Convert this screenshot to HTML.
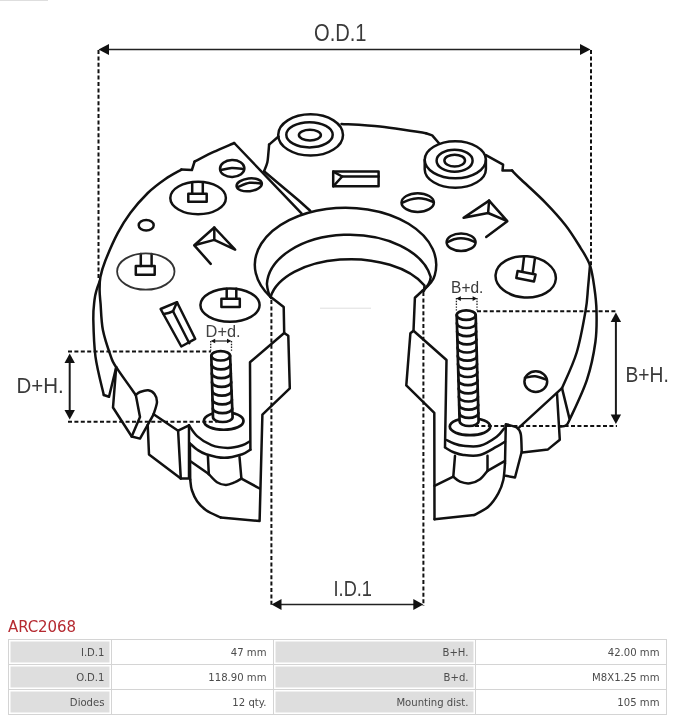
<!DOCTYPE html>
<html>
<head>
<meta charset="utf-8">
<title>ARC2068</title>
<style>
html,body{margin:0;padding:0;background:#fff;}
body{width:677px;height:720px;position:relative;overflow:hidden;font-family:"DejaVu Sans","Liberation Sans",sans-serif;}
#wrap{position:absolute;left:0;top:0;width:677px;height:720px;will-change:transform;}
#draw{position:absolute;left:0;top:0;width:677px;height:720px;}
#title{position:absolute;left:8px;top:616.9px;font-size:15px;line-height:20px;color:#b52a31;letter-spacing:-0.1px;}
table{position:absolute;left:8px;top:639px;width:658px;border-collapse:separate;border-spacing:0;font-size:10.1px;color:#4c4c4c;table-layout:fixed;border-top:1px solid #d4d4d4;border-left:1px solid #d4d4d4;}
td{height:24px;padding:0 6.5px 0 0;text-align:right;border-right:1px solid #d4d4d4;border-bottom:1px solid #d4d4d4;box-sizing:border-box;height:25px;background:#fff;}
td.l{background:#dedede;box-shadow:inset 0 0 0 1.5px #fff;}
</style>
</head>
<body>
<div id="wrap">
<svg id="draw" width="677" height="720" viewBox="0 0 677 720">
<g fill="none" stroke="#111" stroke-width="2.5" stroke-linejoin="round" stroke-linecap="round">
<path d="M234.2,143.0 C232.2,143.9 218.3,149.8 214.3,151.7 C210.3,153.5 196.6,160.5 194.6,161.5"/>
<path d="M194.6,161.5 L191.9,170.0 L181.4,169.6"/>
<path d="M181.4,169.6 C178.7,171.2 171.0,175.1 165.4,179.0 C159.8,182.9 153.7,187.3 147.8,193.0 C142.0,198.7 135.3,206.3 130.3,213.0 C125.3,219.7 121.9,225.2 117.7,233.2 C113.5,241.2 108.2,253.5 105.3,260.8 C102.4,268.1 101.4,272.1 100.4,277.0 C99.5,281.9 99.6,285.5 99.6,290.0 C99.6,294.5 100.0,297.3 100.6,304.0 C101.1,310.7 101.2,321.2 102.9,330.0 C104.6,338.8 108.8,350.7 111.0,356.9 C113.2,363.1 112.1,360.8 116.2,367.2 C120.3,373.6 132.5,390.4 135.8,395.0"/>
<path d="M99.8,281.0 C99.3,282.5 97.5,286.8 96.6,290.0 C95.7,293.2 95.0,295.2 94.5,300.0 C94.0,304.8 93.1,309.5 93.3,319.0 C93.5,328.5 93.8,344.2 95.5,356.9 C97.2,369.6 102.4,388.6 103.8,395.0"/>
<path d="M234.2,143.0 L301.5,213.3"/>
<path d="M264.0,171.3 L298.8,200.5 L310.2,210.7"/>
<path d="M264.0,171.3 C264.6,169.8 266.6,165.6 267.3,162.5 C268.0,159.4 268.1,156.0 268.4,153.0 C268.7,150.0 269.0,146.0 269.1,144.6"/>
<path d="M269.1,144.6 L278.5,136.5"/>
<path d="M341.5,123.9 C347.9,124.3 368.6,125.3 380.0,126.4 C391.4,127.5 402.3,129.6 410.0,130.7 C417.7,131.8 423.3,132.8 426.0,133.2"/>
<path d="M426.0,133.2 L432.2,135.4 L439.0,143.2"/>
<path d="M485.9,155.1 L503.1,164.7 L502.5,170.6 L512.0,170.5"/>
<path d="M512.0,170.5 C513.6,172.1 515.9,174.7 521.5,180.0 C527.1,185.3 538.1,195.1 545.4,202.6 C552.7,210.1 559.6,217.7 565.5,225.2 C571.4,232.7 576.4,241.1 580.5,247.8 C584.6,254.5 587.7,258.7 590.0,265.4 C592.3,272.1 593.3,280.4 594.4,288.0 C595.5,295.6 596.3,301.8 596.5,310.8 C596.7,319.8 597.0,330.5 595.4,342.0 C593.8,353.5 591.2,366.9 587.0,379.6 C582.8,392.3 573.9,410.4 570.4,418.0 C566.9,425.6 567.7,424.0 566.0,425.4 C564.3,426.8 561.0,426.3 560.0,426.5"/>
<path d="M590.0,265.4 C589.7,269.2 588.7,280.5 588.0,288.0 C587.3,295.5 587.5,299.9 585.6,310.6 C583.7,321.4 580.6,339.6 576.7,352.5 C572.8,365.4 564.5,382.2 562.0,388.1"/>
<path d="M562.0,388.1 L519.2,427.3"/>
<path d="M424.7,160 V169.2 A30.6,18.5 0 0 0 485.9,169.2 V160"/>
<path d="M270.8,297.3 A90.7,57.2 0 1 1 434.8,275 C433.5,281 428.5,286 422.5,290.8"/>
<path d="M271.3,298 C269.5,295.5 267.5,291 266.9,284 A82.6,51.5 0 0 1 430.7,277 C430.5,281 427,287 423.3,290.8"/>
<path d="M270.6,297 A81.3,45.4 0 0 1 424.5,285.5 L424,290.8"/>
<path d="M270.8,297.0 L283.7,307.0 L284.2,333.0 L288.3,335.8 L289.8,388.4 L262.4,414.6 L259.6,521.0 L220.6,517.4"/>
<path d="M284.2,333.0 L250.0,362.2 L250.4,449.7"/>
<path d="M422.5,290.8 L414.9,297.7 L413.5,330.8 L410.4,333.2 L406.3,385.4 L434.3,412.8 L434.5,519.2"/>
<path d="M413.5,330.8 L446.5,360.0 L445.0,447.0"/>
<path d="M220.6,517.4 C218.2,516.2 210.0,512.9 206.1,510.2 C202.2,507.5 199.5,504.6 197.1,501.2 C194.7,497.8 193.0,493.6 191.8,490.0 C190.7,486.4 190.5,481.2 190.2,479.5"/>
<path d="M190.2,479.5 L189.9,443.4"/>
<path d="M189.0,425.3 C190.3,427.1 193.3,432.8 197.1,436.1 C200.8,439.4 206.4,443.2 211.5,445.2 C216.6,447.2 222.7,447.9 227.8,447.9 C232.9,447.9 238.7,446.3 242.3,445.2 C245.9,444.1 248.3,442.1 249.5,441.5"/>
<path d="M189.9,443.4 C191.1,444.4 194.3,447.7 197.0,449.5 C199.7,451.3 201.6,452.8 206.1,454.2 C210.6,455.6 218.2,457.8 224.2,457.8 C230.2,457.8 237.9,455.6 242.3,454.2 C246.7,452.8 249.1,450.4 250.4,449.7"/>
<path d="M189.0,425.3 L189.0,478.6 L180.8,478.6 L178.1,430.7 L189.0,425.3"/>
<path d="M153.6,414.3 L178.1,430.7"/>
<path d="M147.7,425.0 L149.0,454.4 L180.8,478.6"/>
<path d="M207.9,456.0 L208.8,474.1"/>
<path d="M239.5,456.9 L241.4,478.6"/>
<path d="M208.8,474.1 C210.2,475.5 214.1,480.4 217.0,482.2 C219.9,484.0 223.0,484.9 226.0,484.9 C229.0,484.9 232.4,483.2 235.0,482.2 C237.6,481.1 240.3,479.2 241.4,478.6"/>
<path d="M190.8,461.4 L208.8,474.1"/>
<path d="M241.4,478.6 L259.6,488.5"/>
<path d="M135.8,395.0 C136.5,394.5 137.9,392.8 140.0,392.0 C142.1,391.2 145.8,389.9 148.2,390.2 C150.6,390.5 153.0,392.0 154.5,394.0 C156.0,396.0 157.2,398.6 157.0,402.0 C156.8,405.4 154.2,412.2 153.6,414.3"/>
<path d="M153.6,414.3 L140.0,438.6 L131.7,436.5 L140.0,416.9 L135.8,395.0"/>
<path d="M116.2,367.2 L113.0,407.5 L131.7,436.5"/>
<path d="M103.8,395.0 L109.0,396.8 L116.2,367.2"/>
<path d="M434.5,519.2 L474.2,515.0"/>
<path d="M474.2,515.0 C476.6,513.6 484.3,510.3 488.3,506.7 C492.3,503.1 495.8,497.8 498.3,493.3 C500.8,488.9 502.2,485.0 503.3,480.0 C504.4,475.0 504.7,466.1 505.0,463.3"/>
<path d="M505.0,463.3 L505.8,425.0"/>
<path d="M446.7,440.0 C447.9,440.6 451.2,442.5 454.0,443.5 C456.8,444.5 459.0,445.4 463.3,445.8 C467.6,446.2 474.4,447.3 480.0,445.8 C485.6,444.3 492.7,439.6 496.7,436.7 C500.7,433.8 502.9,429.7 504.2,428.3"/>
<path d="M445.0,447.5 C446.3,448.2 449.9,450.8 453.0,452.0 C456.1,453.2 458.8,454.5 463.3,455.0 C467.8,455.5 474.4,456.4 480.0,455.0 C485.6,453.6 492.5,448.9 496.7,446.7 C500.9,444.5 503.6,442.5 505.0,441.7"/>
<path d="M455.0,455.8 L453.3,476.7"/>
<path d="M487.5,455.8 L487.5,470.8"/>
<path d="M453.3,476.7 C454.4,477.5 457.2,480.6 460.0,481.7 C462.8,482.8 466.7,483.7 470.0,483.3 C473.3,482.9 477.1,481.3 480.0,479.2 C482.9,477.1 486.2,472.2 487.5,470.8"/>
<path d="M434.5,485.8 L453.3,476.7"/>
<path d="M487.5,470.8 L505.0,460.8"/>
<path d="M505.8,424.2 C507.3,424.6 514.7,426.2 516.7,427.5 C518.7,428.8 520.1,431.0 520.8,434.2 C521.5,437.4 521.6,449.4 521.7,451.7"/>
<path d="M521.7,451.7 L515.0,477.5 L505.8,475.8"/>
<path d="M522.2,452.4 L548.0,449.4 L559.8,439.8 L557.0,393.5"/>
<path d="M562.0,388.1 L569.4,418.4"/>
<path d="M524.9,377.8 C526.6,377.6 531.5,376.0 535.1,376.3 C538.7,376.6 544.6,379.1 546.5,379.6"/>
<path d="M221.0,170.0 C222.8,169.7 228.0,168.2 231.7,168.0 C235.4,167.8 241.4,168.8 243.3,169.0"/>
<path d="M238.0,187.0 C239.9,186.3 245.7,183.4 249.6,182.8 C253.5,182.2 259.3,183.4 261.2,183.5"/>
<path d="M402.3,202.9 C403.6,202.3 407.4,200.4 410.0,199.6 C412.6,198.8 415.4,198.4 418.1,198.3 C420.8,198.2 423.4,198.7 426.0,199.3 C428.6,199.9 432.3,201.6 433.6,202.0"/>
<path d="M447.4,242.1 C448.5,241.6 451.8,240.0 454.0,239.3 C456.2,238.7 458.6,238.2 460.9,238.2 C463.2,238.2 465.7,238.7 468.0,239.3 C470.3,239.9 473.8,241.5 474.9,241.9"/>
<path d="M188.3,193.8 L206.7,193.8 L206.7,201.7 L188.3,201.7 Z"/>
<path d="M192.2,193.8 L192.2,182.3"/>
<path d="M202.8,193.8 L202.8,182.3"/>
<path d="M135.8,266.1 L154.7,266.1 L154.7,274.8 L135.8,274.8 Z"/>
<path d="M140.8,266.1 L140.8,254.0"/>
<path d="M151.6,266.1 L151.6,254.0"/>
<path d="M221.4,298.7 L239.8,298.7 L239.8,307.0 L221.4,307.0 Z"/>
<path d="M226.7,298.7 L226.7,288.8"/>
<path d="M236.3,298.7 L236.3,288.8"/>
<path d="M517.6,271.0 L535.6,274.5 L534.0,281.4 L516.3,278.0 Z"/>
<path d="M522.3,271.5 L524.0,257.2"/>
<path d="M532.8,273.8 L534.8,259.2"/>
<path d="M210.7,263.9 L194.3,245.3 L214.3,227.5 L235.1,249.7 L214.3,239.9 L194.3,245.3"/>
<path d="M214.3,227.5 L214.3,239.9"/>
<path d="M486.2,237.0 L507.3,221.2 L489.1,200.6 L463.6,217.8 L488.1,213.0 L507.3,221.2"/>
<path d="M489.1,200.6 L488.1,213.0"/>
<path d="M333.2,171.6 L378.6,171.6 L378.6,186.3 L333.2,186.3 Z"/>
<path d="M333.2,171.6 L342.2,176.5 L378.6,176.5"/>
<path d="M342.2,176.5 L333.2,186.3"/>
<path d="M160.6,309.0 L177.0,302.2 L195.2,338.8 L181.3,346.5 Z"/>
<path d="M163.5,313.9 C164.3,313.8 166.9,313.4 168.5,313.0 C170.1,312.6 172.2,311.5 173.0,311.2"/>
<path d="M173.0,311.2 L177.0,302.2"/>
<path d="M173.0,311.2 L189.3,343.2"/>
<ellipse cx="310.6" cy="134.9" rx="32.4" ry="20.6" fill="none"/>
<ellipse cx="309.5" cy="134.8" rx="23.2" ry="12.6" fill="none"/>
<ellipse cx="309.9" cy="135.1" rx="11" ry="5.3" fill="none"/>
<ellipse cx="455.3" cy="159.8" rx="30.6" ry="18.5" fill="none"/>
<ellipse cx="454.6" cy="160.7" rx="18" ry="11" fill="none"/>
<ellipse cx="454.7" cy="160.6" rx="10.3" ry="5.9" fill="none"/>
<ellipse cx="535.8" cy="381.6" rx="11.4" ry="10.3" fill="none"/>
<ellipse cx="232.2" cy="168.5" rx="12.2" ry="8.5" fill="none" transform="rotate(-2 232.2 168.5)"/>
<ellipse cx="249.2" cy="184.8" rx="12.7" ry="6.4" fill="none" transform="rotate(-7 249.2 184.8)"/>
<ellipse cx="417.7" cy="202.6" rx="16.2" ry="9.3" fill="none"/>
<ellipse cx="461.1" cy="242.2" rx="14.5" ry="8.8" fill="none"/>
<ellipse cx="198.1" cy="198" rx="27.8" ry="16.2" fill="none"/>
<ellipse cx="145.8" cy="271.5" rx="28.7" ry="18.2" stroke="#333" stroke-width="1.8"/>
<ellipse cx="230" cy="305.1" rx="29.6" ry="16.6" fill="none"/>
<ellipse cx="525.7" cy="276.9" rx="30.2" ry="20.6" fill="none" transform="rotate(4 525.7 276.9)"/>
<ellipse cx="146.2" cy="225.3" rx="7.5" ry="5.3" fill="none"/>
<g stroke-width="2.7">
<ellipse cx="223.7" cy="420.9" rx="19.8" ry="8.85" fill="#fff"/>
<path d="M211.3,355.8 L213,417.3 A9.799999999999997,4.699999999999996 0 0 0 232.6,417.3 L230.1,355.8 A9.399999999999991,4.699999999999996 0 0 0 211.3,355.8 Z" fill="#fff"/>
<path d="M211.3,355.8 A9.4,4.7 0 0 0 230.1,355.8"/>
<path d="M211.5,364.6 A9.5,4.7 0 0 0 230.5,364.6"/>
<path d="M211.8,373.4 A9.5,4.7 0 0 0 230.8,373.4"/>
<path d="M212.0,382.2 A9.6,4.7 0 0 0 231.2,382.2"/>
<path d="M212.3,390.9 A9.6,4.7 0 0 0 231.5,390.9"/>
<path d="M212.5,399.7 A9.7,4.7 0 0 0 231.9,399.7"/>
<path d="M212.8,408.5 A9.7,4.7 0 0 0 232.2,408.5"/>
</g>
<g stroke-width="2.7">
<ellipse cx="470" cy="426.6" rx="20.2" ry="8.6" fill="#fff"/>
<path d="M456.7,315.05 L459.6,421.25 A9.5,4.75 0 0 0 478.6,421.25 L475.7,315.05 A9.5,4.75 0 0 0 456.7,315.05 Z" fill="#fff"/>
<path d="M456.7,315.1 A9.5,4.8 0 0 0 475.7,315.1"/>
<path d="M456.9,323.2 A9.5,4.8 0 0 0 475.9,323.2"/>
<path d="M457.1,331.4 A9.5,4.8 0 0 0 476.1,331.4"/>
<path d="M457.4,339.6 A9.5,4.8 0 0 0 476.4,339.6"/>
<path d="M457.6,347.7 A9.5,4.8 0 0 0 476.6,347.7"/>
<path d="M457.8,355.9 A9.5,4.8 0 0 0 476.8,355.9"/>
<path d="M458.0,364.1 A9.5,4.8 0 0 0 477.0,364.1"/>
<path d="M458.3,372.2 A9.5,4.8 0 0 0 477.3,372.2"/>
<path d="M458.5,380.4 A9.5,4.8 0 0 0 477.5,380.4"/>
<path d="M458.7,388.6 A9.5,4.8 0 0 0 477.7,388.6"/>
<path d="M458.9,396.7 A9.5,4.8 0 0 0 477.9,396.7"/>
<path d="M459.2,404.9 A9.5,4.8 0 0 0 478.2,404.9"/>
<path d="M459.4,413.1 A9.5,4.8 0 0 0 478.4,413.1"/>
</g>
</g>

<g stroke="#111" stroke-width="2" fill="none" stroke-dasharray="4 2.4">
<path d="M98.5,50 V280"/>
<path d="M591,50 V265"/>
<path d="M271.4,300 V606"/>
<path d="M423.4,292 V606"/>
<path d="M68,351.4 H211"/>
<path d="M68,421.8 H217.5"/>
<path d="M477,311.2 H617"/>
<path d="M475,426 H617"/>
</g>
<g stroke="#222" stroke-width="1.3" fill="none" stroke-dasharray="1.4 1.4">
<path d="M210.7,341 V351"/><path d="M231.5,341 V351"/>
<path d="M456.4,298 V311"/><path d="M477,298 V311"/>
</g>
<g stroke="#222" stroke-width="1.7" fill="none">
<path d="M104,49.5 H585"/>
<path d="M278,604.5 H417"/>
</g>
<g stroke="#1a1a1a" stroke-width="2" fill="none">
<path d="M69.7,360 V412"/>
<path d="M615.9,320 V416"/>
</g>
<g stroke="#dedede" stroke-width="1" fill="none">
<path d="M0,0.5 H48"/>
<path d="M320,308.2 H371"/>
</g>
<g stroke="#222" stroke-width="1.2" fill="none">
<path d="M213,341 H229"/>
<path d="M459,298.6 H475"/>
</g>
<g fill="#111" stroke="none">
<path d="M98.5,49.5 L109,44 V55 Z"/>
<path d="M590.5,49.5 L580,44 V55 Z"/>
<path d="M271.5,604.5 L281.5,599 V610 Z"/>
<path d="M423.3,604.5 L413.3,599 V610 Z"/>
<path d="M69.7,353.5 L64.5,363 H74.9 Z"/>
<path d="M69.7,419.5 L64.5,410 H74.9 Z"/>
<path d="M615.9,312.5 L610.7,322 H621.1 Z"/>
<path d="M615.9,424 L610.7,414.4 H621.1 Z"/>
<path d="M210.7,341 L215.2,338.7 V343.3 Z"/><path d="M231.5,341 L227,338.7 V343.3 Z"/>
<path d="M456.2,298.6 L460.8,296.3 V300.9 Z"/><path d="M477.2,298.6 L472.6,296.3 V300.9 Z"/>
</g>
<g font-family="'Liberation Sans',sans-serif" fill="#3a3a3a" stroke="#fff" stroke-width="0.5" paint-order="stroke">
<text x="314" y="40.6" font-size="23" textLength="52.5" lengthAdjust="spacingAndGlyphs">O.D.1</text>
<text x="333.5" y="596" font-size="22.6" textLength="38.5" lengthAdjust="spacingAndGlyphs">I.D.1</text>
<text x="16.5" y="392.7" font-size="22.6" textLength="47.3" lengthAdjust="spacingAndGlyphs">D+H.</text>
<text x="625.5" y="381.7" font-size="22" textLength="43.3" lengthAdjust="spacingAndGlyphs">B+H.</text>
<text x="205.6" y="336.7" font-size="16" textLength="35" lengthAdjust="spacingAndGlyphs" fill="#444">D+d.</text>
<text x="451.1" y="292.7" font-size="16.5" textLength="32.3" lengthAdjust="spacingAndGlyphs" fill="#3a3a3a">B+d.</text>
</g>
</svg>
<div id="title">ARC2068</div>
<table cellspacing="0">
<colgroup><col style="width:103px"><col style="width:162px"><col style="width:202px"><col style="width:191px"></colgroup>
<tr><td class="l">I.D.1</td><td>47 mm</td><td class="l">B+H.</td><td>42.00 mm</td></tr>
<tr><td class="l">O.D.1</td><td>118.90 mm</td><td class="l">B+d.</td><td>M8X1.25 mm</td></tr>
<tr><td class="l">Diodes</td><td>12 qty.</td><td class="l">Mounting dist.</td><td>105 mm</td></tr>
</table>
</div>
</body>
</html>
